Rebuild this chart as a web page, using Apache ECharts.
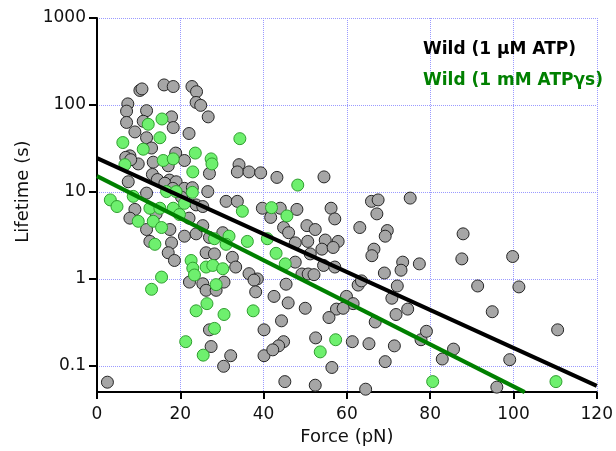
<!DOCTYPE html>
<html>
<head>
<meta charset="utf-8">
<script src="https://cdn.jsdelivr.net/npm/echarts@6/dist/echarts.min.js"></script>
<style>html,body{margin:0;padding:0;background:#fff}#c{width:616px;height:451px}</style>
</head>
<body>
<div id="c"></div>
<script>
// Wild (1 µM ATP) — [force (pN), lifetime (s)]
const wildAtp = [
[10.3,147],[10.8,153],[16.1,170],[18.3,163],[22.8,163],[23.9,142],[7.4,103],[7.1,85],[11.9,86],[23.8,107],[24.9,99],[26.7,73],[7.1,63],[11.1,65],[17.9,73],[18.3,55],[9.1,49],[11.9,42],[22.1,47],[13.1,32],[7.9,26],[9.9,21],[13.5,22],[18.9,28],[21.0,23],[17.1,20],[27.0,16.3],[34.1,20.6],[33.7,17],[36.5,17],[39.3,16.6],[43.2,14.7],[54.5,14.9],[6.9,25],[8.1,23.5],[13.3,15.9],[14.5,13.9],[7.5,13.1],[17.4,13.7],[11.9,9.7],[16.3,12.6],[19.0,13.1],[21.0,11],[26.6,10.1],[23.8,7.1],[25.4,6.8],[31.0,7.8],[33.7,7.8],[39.7,6.5],[9.1,6.3],[7.9,5.0],[11.9,3.7],[12.7,2.7],[17.9,2.6],[17.5,3.7],[21.0,3.1],[23.8,3.3],[25.4,4.1],[17.1,2.0],[18.6,1.63],[26.2,2.0],[28.2,1.94],[32.5,1.77],[33.3,1.37],[36.5,1.15],[38.5,1.0],[30.2,3.4],[22.2,0.92],[25.4,0.88],[26.2,0.74],[28.6,0.74],[30.5,0.92],[37.7,0.97],[38.1,0.71],[27.0,0.26],[27.4,0.167],[32.1,0.131],[30.4,0.099],[40.1,0.26],[40.1,0.131],[2.5,0.065],
[65.9,7.8],[67.5,8.1],[75.2,8.5],[67.2,5.6],[63.1,3.9],[69.7,3.6],[69.2,3.1],[66.5,2.2],[66.0,1.85],[73.4,1.56],[73.0,1.26],[77.4,1.49],[69.0,1.17],[41.7,5.1],[44.0,6.5],[48.0,6.3],[56.2,6.5],[57.1,4.9],[50.4,4.1],[52.4,3.7],[44.8,3.9],[46.0,3.4],[47.6,2.6],[50.6,2.7],[54.8,2.8],[57.9,2.7],[54.0,2.2],[56.7,2.3],[51.2,1.94],[47.6,1.56],[54.4,1.43],[57.1,1.37],[49.2,1.14],[50.7,1.14],[52.1,1.12],[42.5,0.63],[45.4,0.87],[45.9,0.53],[50.0,0.46],[62.7,0.85],[63.5,0.95],[59.9,0.63],[61.5,0.52],[57.5,0.45],[59.1,0.46],[55.7,0.36],[72.1,0.83],[70.8,0.60],[74.6,0.45],[71.8,0.39],[66.8,0.32],[77.8,0.20],[44.3,0.33],[44.8,0.19],[43.6,0.17],[42.2,0.153],[52.5,0.21],[61.3,0.19],[65.3,0.18],[71.4,0.17],[69.2,0.112],[56.4,0.096],[45.1,0.066],[52.4,0.060],[64.5,0.054],
[87.9,3.3],[87.6,1.70],[99.8,1.81],[91.4,0.83],[101.3,0.81],[94.9,0.42],[79.1,0.25],[85.6,0.156],[82.9,0.12],[99.1,0.118],[110.6,0.26],[96.0,0.057],
[18.2,11.0],[22.9,11.2],[27.0,3.0],[22.1,5.0],[14.2,5.6],[20.3,8.7]
];
// Wild (1 mM ATPγs) — [force (pN), lifetime (s)]
const wildAtpGs = [
[12.3,60],[15.6,69],[15.1,42],[6.2,37],[11.1,31],[34.3,41],[23.6,28],[15.9,23],[18.3,24],[27.4,24],[27.6,21],[6.7,20.6],[23.0,17],[22.9,9.9],[3.2,8.1],[4.8,6.8],[8.7,8.9],[9.9,4.6],[12.7,6.5],[15.1,6.5],[13.5,4.6],[15.5,3.9],[13.9,2.5],[16.7,10.1],[19.0,10.1],[18.3,6.5],[19.8,5.5],[21.0,7.4],[28.2,2.9],[31.7,3.1],[31.0,2.5],[34.9,6.0],[36.1,2.7],[22.6,1.63],[23.0,1.33],[23.4,1.11],[26.2,1.37],[27.8,1.43],[30.2,1.31],[15.5,1.05],[13.1,0.76],[28.6,0.86],[26.4,0.52],[23.8,0.43],[30.5,0.39],[37.5,0.43],[28.2,0.27],[21.3,0.19],[25.5,0.133],[48.2,12],[41.9,6.6],[45.6,5.3],[40.9,2.9],[43.0,1.97],[45.2,1.49],[57.3,0.20],[53.6,0.145],[80.6,0.066],[110.2,0.066]
];
// Fit lines (end points)
const fitAtp = [[0,24.5],[120,0.059]];
const fitAtpGs = [[0,15.2],[102.7,0.05]];
const yTicks = [0.1, 1, 10, 100, 1000];
const seriesNames = ['Wild (1 µM ATP)', 'Wild (1 mM ATPγs)'];

const FONT = 'DejaVu Sans';
const gridLine = {show:true, lineStyle:{color:'#9a9aff', type:'dotted', width:1}};
const chart = echarts.init(document.getElementById('c'), null, {renderer:'canvas'});
chart.setOption({
  animation:false,
  backgroundColor:'#fff',
  grid:{left:97, right:15, top:18, bottom:54, containLabel:false},
  legend:{
    orient:'vertical', left:413, top:36.5, itemWidth:0, itemHeight:0, itemGap:13.5,
    icon:'none', selectedMode:false,
    textStyle:{fontFamily:FONT, fontWeight:'bold', fontSize:17},
    data:[{name:seriesNames[0], textStyle:{color:'#000'}},{name:seriesNames[1], textStyle:{color:'#008000'}}]
  },
  xAxis:{
    type:'value', min:0, max:120, interval:20,
    name:'Force (pN)', nameLocation:'middle', nameGap:35,
    nameTextStyle:{fontFamily:FONT, fontSize:18, color:'#111'},
    axisLine:{show:true, onZero:false, lineStyle:{color:'#000', width:2}},
    axisTick:{show:true, length:7, lineStyle:{color:'#000', width:2}},
    axisLabel:{fontFamily:FONT, fontSize:17, color:'#111', margin:14},
    splitLine:gridLine
  },
  yAxis:{
    type:'log', logBase:10, min:0.05, max:1000,
    name:'Lifetime (s)', nameLocation:'middle', nameGap:60,
    nameTextStyle:{fontFamily:FONT, fontSize:18, color:'#111', padding:[0,0,0,27]},
    axisLine:{show:true, lineStyle:{color:'#000', width:2}},
    axisTick:{show:true, length:8, lineStyle:{color:'#000', width:2}, customValues:yTicks},
    axisLabel:{fontFamily:FONT, fontSize:17, color:'#111', margin:11, customValues:yTicks,
      formatter:function(v){const l=Math.log10(v);return Math.abs(l-Math.round(l))<1e-6?String(Math.pow(10,Math.round(l)).toFixed(Math.max(0,-Math.round(l)))):'';}},
    splitLine:gridLine,
    minorTick:{show:false}, minorSplitLine:{show:false}
  },
  series:[
    {name:seriesNames[0], type:'scatter', data:wildAtp, symbol:'circle', symbolSize:12,
      itemStyle:{color:'#a6a6a6', borderColor:'#262626', borderWidth:1, opacity:1}, z:2},
    {name:seriesNames[1], type:'scatter', data:wildAtpGs, symbol:'circle', symbolSize:12,
      itemStyle:{color:'#6ef06e', borderColor:'#2e9e2e', borderWidth:1, opacity:1}, z:3},
    {name:'fit ATP', type:'line', data:fitAtp, symbol:'none', lineStyle:{color:'#000', width:4}, z:4},
    {name:'fit ATPγs', type:'line', data:fitAtpGs, symbol:'none', lineStyle:{color:'#008000', width:4}, z:5}
  ]
});
</script>
</body>
</html>
